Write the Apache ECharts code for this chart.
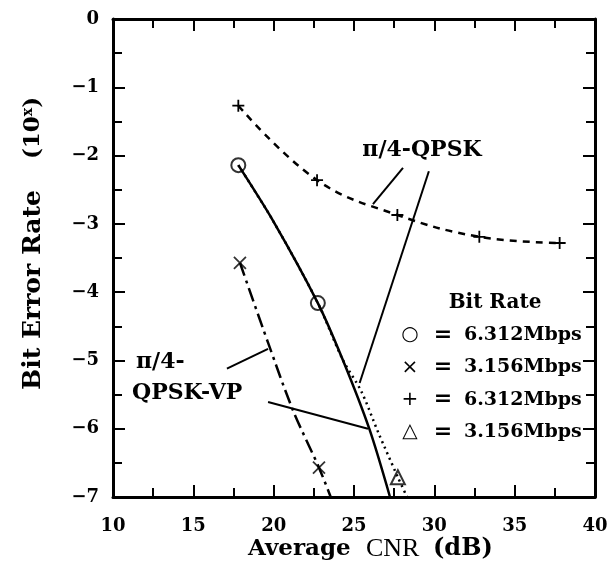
<!DOCTYPE html>
<html>
<head>
<meta charset="utf-8">
<script src="https://cdn.jsdelivr.net/npm/echarts@6/dist/echarts.min.js"></script>
<style>
  html, body { margin: 0; padding: 0; background: #fff; }
  #main { width: 611px; height: 574px; }
</style>
</head>
<body>
<div id="main"></div>
<script>
// 坐标轴刻度
const xTicks = [10, 15, 20, 25, 30, 35, 40];
const yTicks = [0, -1, -2, -3, -4, -5, -6, -7];

// π/4-QPSK-VP 6.312Mbps (实线, ○)
const vpFastCnr = [17.8, 20.0, 22.75, 24.3, 25.95, 27.24];
const vpFastBer = [-2.14, -2.97, -4.16, -4.99, -6.0, -7.0];
const vpFastMarkCnr = [17.8, 22.75];
const vpFastMarkBer = [-2.14, -4.16];

// π/4-QPSK-VP 3.156Mbps (点划线, ×)
const vpSlowCnr = [17.9, 19.65, 21.2, 22.82, 23.55];
const vpSlowBer = [-3.57, -4.74, -5.73, -6.57, -7.0];
const vpSlowMarkCnr = [17.9, 22.82];
const vpSlowMarkBer = [-3.57, -6.57];

// π/4-QPSK 6.312Mbps (虚线, +)
const qpskFastCnr = [17.8, 22.7, 27.7, 32.8, 37.8];
const qpskFastBer = [-1.27, -2.36, -2.87, -3.19, -3.28];

// π/4-QPSK 3.156Mbps (点线, △)
const qpskSlowCnr = [17.8, 20.0, 22.75, 24.3, 25.45, 26.5, 27.73, 28.3];
const qpskSlowBer = [-2.14, -2.97, -4.16, -4.99, -5.45, -6.05, -6.71, -7.0];
const qpskSlowMarkCnr = [27.73];
const qpskSlowMarkBer = [-6.71];

// 图例文字
const legendTitle = 'Bit Rate';
const legendGlyphs = ['○', '×', '+', '△'];
const legendRates = ['6.312Mbps', '3.156Mbps', '6.312Mbps', '3.156Mbps'];

const SERIF = '"DejaVu Serif", serif';

function pairs(xs, ys) {
    return xs.map((x, i) => [x, ys[i]]);
}

const crossPath = 'path://M0,0L10,10M10,0L0,10';
const plusPath = 'path://M5,0L5,10M0,5L10,5';

const myChart = echarts.init(document.getElementById('main'));

const tickStyle = {
    inside: true,
    length: 12,
    lineStyle: {color: '#000', width: 2}
};
const minorStyle = {
    show: true,
    splitNumber: 2,
    length: 9,
    lineStyle: {color: '#000', width: 2}
};
const axisLineStyle = {show: true, onZero: false, lineStyle: {color: '#000', width: 3}};

function leader(a, b) {
    return [{coord: a}, {coord: b}];
}

function label(x, y, text, font, align, rotation) {
    return {
        type: 'text',
        x: x, y: y,
        rotation: rotation || 0,
        style: {
            text: text,
            fill: '#000',
            font: font,
            align: align || 'center',
            verticalAlign: 'middle'
        }
    };
}

const option = {
    animation: false,
    backgroundColor: '#fff',
    grid: {left: 113, right: 16, top: 19, bottom: 77},
    xAxis: [
        {
            type: 'value',
            position: 'bottom',
            min: xTicks[0],
            max: xTicks[xTicks.length - 1],
            interval: 5,
            axisLine: axisLineStyle,
            axisTick: tickStyle,
            minorTick: minorStyle,
            splitLine: {show: false},
            axisLabel: {
                margin: 20,
                color: '#000',
                fontFamily: SERIF,
                fontWeight: 'bold',
                fontSize: 18
            }
        },
        {
            type: 'value',
            position: 'top',
            min: xTicks[0],
            max: xTicks[xTicks.length - 1],
            interval: 5,
            axisLine: axisLineStyle,
            axisTick: tickStyle,
            minorTick: minorStyle,
            splitLine: {show: false},
            axisLabel: {show: false}
        }
    ],
    yAxis: [
        {
            type: 'value',
            position: 'left',
            min: yTicks[yTicks.length - 1],
            max: yTicks[0],
            interval: 1,
            axisLine: axisLineStyle,
            axisTick: tickStyle,
            minorTick: minorStyle,
            splitLine: {show: false},
            axisLabel: {
                margin: 14,
                color: '#000',
                fontFamily: SERIF,
                fontWeight: 'bold',
                fontSize: 18,
                formatter: v => String(v).replace('-', '−')
            }
        },
        {
            type: 'value',
            position: 'right',
            min: yTicks[yTicks.length - 1],
            max: yTicks[0],
            interval: 1,
            axisLine: axisLineStyle,
            axisTick: tickStyle,
            minorTick: minorStyle,
            splitLine: {show: false},
            axisLabel: {show: false}
        }
    ],
    series: [
        {
            name: 'π/4-QPSK 3.156Mbps',
            type: 'line',
            data: pairs(qpskSlowCnr, qpskSlowBer),
            smooth: 0.3,
            showSymbol: false,
            lineStyle: {color: '#000', width: 2.5, type: [2, 4]}
        },
        {
            name: 'π/4-QPSK-VP 6.312Mbps',
            type: 'line',
            data: pairs(vpFastCnr, vpFastBer),
            smooth: 0.3,
            showSymbol: false,
            lineStyle: {color: '#000', width: 2.5, type: 'solid'},
            markLine: {
                silent: true,
                symbol: 'none',
                label: {show: false},
                lineStyle: {color: '#000', width: 2, type: 'solid'},
                data: [
                    leader([28.05, -2.18], [26.18, -2.71]),
                    leader([29.66, -2.23], [25.35, -5.33]),
                    leader([17.09, -5.12], [19.65, -4.83]),
                    leader([19.65, -5.61], [25.87, -6.0])
                ]
            }
        },
        {
            name: 'π/4-QPSK-VP 3.156Mbps',
            type: 'line',
            data: pairs(vpSlowCnr, vpSlowBer),
            smooth: 0.3,
            showSymbol: false,
            lineStyle: {color: '#000', width: 2.5, type: [14, 5, 3, 5]}
        },
        {
            name: 'π/4-QPSK 6.312Mbps',
            type: 'line',
            data: pairs(qpskFastCnr, qpskFastBer),
            smooth: 0.4,
            symbol: plusPath,
            symbolSize: 12,
            itemStyle: {color: '#000', borderColor: '#000', borderWidth: 1.8},
            lineStyle: {color: '#000', width: 2.5, type: [7, 6]}
        },
        {
            type: 'scatter',
            data: pairs(vpFastMarkCnr, vpFastMarkBer),
            symbol: 'circle',
            symbolSize: 14,
            itemStyle: {color: '#fff', borderColor: '#000', borderWidth: 2}
        },
        {
            type: 'scatter',
            data: pairs(vpSlowMarkCnr, vpSlowMarkBer),
            symbol: crossPath,
            symbolSize: 12,
            itemStyle: {color: '#000', borderColor: '#000', borderWidth: 1.8}
        },
        {
            type: 'scatter',
            data: pairs(qpskSlowMarkCnr, qpskSlowMarkBer),
            symbol: 'triangle',
            symbolSize: 14,
            itemStyle: {color: '#fff', borderColor: '#000', borderWidth: 2}
        }
    ],
    graphic: [
        // y轴标题
        label(33, 290, 'Bit Error Rate', 'bold 25px ' + SERIF, 'center', Math.PI / 2),
        {
            type: 'text',
            x: 33, y: 128,
            rotation: Math.PI / 2,
            style: {
                text: '{a|(10}{s|x}{a|)}',
                fill: '#000',
                align: 'center',
                verticalAlign: 'middle',
                rich: {
                    a: {font: 'bold 23px ' + SERIF, fill: '#000'},
                    s: {font: 'bold 14px ' + SERIF, fill: '#000', verticalAlign: 'top', padding: [0, 0, 10, 0]}
                }
            }
        },
        // x轴标题
        label(248, 549, 'Average', 'bold 23px ' + SERIF, 'left'),
        label(366, 549, 'CNR', '26px "Liberation Serif", serif', 'left'),
        label(433, 549, '(dB)', 'bold 24px ' + SERIF, 'left'),
        // 曲线注释
        label(422, 150, 'π/4-QPSK', 'bold 22px ' + SERIF, 'center'),
        label(136, 362, 'π/4-', 'bold 22px ' + SERIF, 'left'),
        label(132, 393, 'QPSK-VP', 'bold 22px ' + SERIF, 'left'),
        // 图例
        label(495, 303, legendTitle, 'bold 20px ' + SERIF, 'center')
    ].concat(legendGlyphs.flatMap((g, i) => [
        label(410, 335 + i * 32.3, g, '20px "DejaVu Sans", sans-serif', 'center'),
        label(443, 335 + i * 32.3, '=', 'bold 22px ' + SERIF, 'center'),
        label(464, 335 + i * 32.3, legendRates[i], 'bold 19px ' + SERIF, 'left')
    ]))
};

myChart.setOption(option);
</script>
</body>
</html>
